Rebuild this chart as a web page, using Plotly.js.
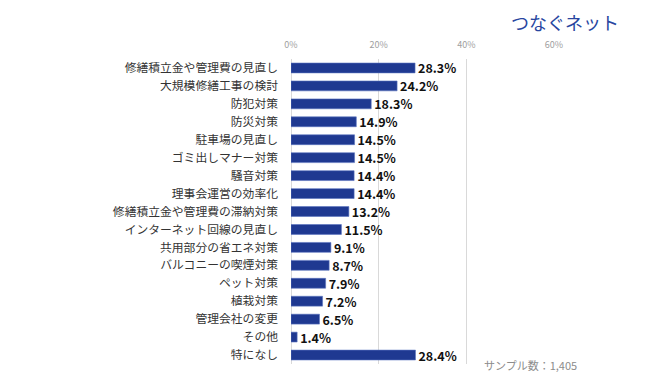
<!DOCTYPE html>
<html><head><meta charset="utf-8">
<script src="https://cdn.plot.ly/plotly-3.0.1.min.js"></script>
<style>html,body{margin:0;padding:0;background:#fff}#c{width:648px;height:384px}</style>
</head><body><div id="c"></div>
<script>
const categories = ["修繕積立金や管理費の見直し","大規模修繕工事の検討","防犯対策","防災対策","駐車場の見直し","ゴミ出しマナー対策","騒音対策","理事会運営の効率化","修繕積立金や管理費の滞納対策","インターネット回線の見直し","共用部分の省エネ対策","バルコニーの喫煙対策","ペット対策","植栽対策","管理会社の変更","その他","特になし"];
const values = [28.3,24.2,18.3,14.9,14.5,14.5,14.4,14.4,13.2,11.5,9.1,8.7,7.9,7.2,6.5,1.4,28.4];
const tickVals = [0,20,40,60];
const tickText = ["0%","20%","40%","60%"];
const font = "'Noto Sans CJK JP', 'Noto Sans', sans-serif";
Plotly.newPlot('c', [{
  type:'bar', orientation:'h', x:values, y:categories,
  marker:{color:'#1f3991', line:{color:'#5a74c0', width:0.6}},
  width:0.55,
  text: values.map(v=>v.toFixed(1)+'%'), textposition:'outside', constraintext:'none',
  textfont:{family:font, size:12.5, color:'#111', weight:'bold'},
  cliponaxis:false, hoverinfo:'none'
}], {
  width:648, height:384, paper_bgcolor:'#fff', plot_bgcolor:'#fff',
  margin:{l:291, r:94, t:59, b:20},
  showlegend:false, bargap:0.4,
  xaxis:{range:[0,60], side:'top', tickvals:tickVals, ticktext:tickText,
    showgrid:true, gridcolor:'#d9d9d9', gridwidth:1, zeroline:true, zerolinecolor:'#d9d9d9', zerolinewidth:1,
    showline:false, ticks:'', ticklen:0, ticklabelstandoff:8, tickfont:{family:font, size:9, color:'#a0a0a0'}, fixedrange:true},
  yaxis:{type:'category', autorange:'reversed', showgrid:false, zeroline:false, showline:false,
    ticks:'', ticklabelstandoff:12, tickfont:{family:font, size:11.8, color:'#333'}},
  annotations:[
    {text:'つなぐネット', xref:'paper', yref:'paper', x:1.255, y:1.12, xanchor:'right', yanchor:'middle', showarrow:false,
     font:{family:font, size:18, color:'#2846a0'}},
    {text:'サンプル数：1,405', xref:'paper', yref:'paper', x:0.726, y:-0.003, xanchor:'left', yanchor:'middle', showarrow:false,
     font:{family:font, size:11, color:'#8c8c8c'}}
  ]
}, {displayModeBar:false, staticPlot:true});
</script></body></html>
